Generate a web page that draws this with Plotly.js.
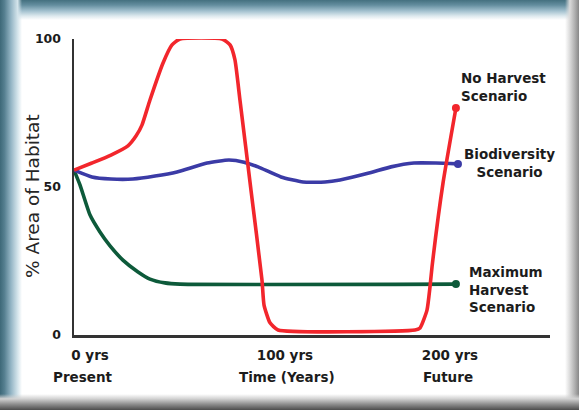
<!DOCTYPE html>
<html>
<head>
<meta charset="utf-8">
<script src="https://cdn.plot.ly/plotly-3.0.1.min.js"></script>
<style>
  html, body { margin: 0; padding: 0; background: #ffffff; }
  #wrap { position: relative; width: 579px; height: 410px; overflow: hidden; background: #ffffff; }
  .band { position: absolute; pointer-events: none; }
  #top { left: 0; top: 0; width: 579px; height: 20px;
    background: linear-gradient(to bottom, #44707f 0%, #638d9e 25%, #a3c1cf 55%, #dde9ee 80%, rgba(255,255,255,0) 100%); }
  #left { left: 0; top: 0; width: 22px; height: 410px;
    background: linear-gradient(to right, #3d6878 0%, #557f90 20%, #94b5c5 50%, #d4e4eb 80%, rgba(255,255,255,0) 100%); }
  #right { right: 0; top: 0; width: 14px; height: 410px;
    background: linear-gradient(to right, rgba(255,255,255,0) 0%, #dadada 35%, #b0b0b0 70%, #888888 100%); }
  #bottom { left: 0; bottom: 0; width: 579px; height: 16px;
    background: linear-gradient(to bottom, rgba(255,255,255,0) 0%, #d2d2d2 30%, #8c8c8c 65%, #4c4c4c 100%); }
  #plot { position: absolute; left: 0; top: 0; width: 579px; height: 410px; }
</style>
</head>
<body>
<div id="wrap">
  <div class="band" id="top"></div>
  <div class="band" id="left"></div>
  <div class="band" id="right"></div>
  <div class="band" id="bottom"></div>
  <div id="plot"></div>
</div>
<script>
// Time in years, % area of habitat
const noHarvestYears = [0, 9.6, 19.8, 28.9, 33.2, 36.4, 40.7, 47.7, 52.5, 56.8, 79.3, 83.6, 86.2, 88.9, 94.8, 100.7, 101.8, 105, 109.3, 182.7, 185.4, 189.1, 190.7, 191.8, 197.7, 204.6];
const noHarvestValues = [55.7, 58.1, 60.8, 63.9, 67.2, 70.9, 79.4, 91.9, 98, 100, 100, 98, 93, 79.4, 49, 18.6, 10.1, 4.1, 1.7, 1.7, 2.4, 8.4, 16.2, 23, 51.4, 76.7];

const biodiversityYears = [0, 9.6, 19.8, 31.6, 43.4, 55.2, 71.3, 83, 91.1, 98.6, 110.9, 122.7, 134.5, 142.5, 158, 169.8, 182.1, 193.9, 205.7];
const biodiversityValues = [55.7, 53.4, 52.7, 52.7, 53.7, 55.1, 58.1, 59.1, 58.4, 56.8, 53.4, 51.7, 51.7, 52.4, 54.7, 56.8, 58.1, 58.1, 57.8];

const maxHarvestYears = [0, 3.2, 8.6, 13.9, 19.3, 26.2, 34.3, 40.7, 48.7, 56.8, 204.6];
const maxHarvestValues = [55.7, 50.7, 40.5, 34.8, 30.1, 25.3, 21.3, 18.9, 17.6, 17.2, 17.2];

const xTickVals = [8.6, 113, 201.4];
const xTickText = ['0 yrs', '100 yrs', '200 yrs'];
const xSubLabelVals = [4.8, 114, 200.4];
const xSubLabels = ['Present', 'Time (Years)', 'Future'];
const yTickVals = [0, 50, 100];
const yTickText = ['0', '50', '100'];
const yTitle = '% Area of Habitat';

const seriesNames = ['No Harvest<br>Scenario', 'Biodiversity<br>Scenario', 'Maximum<br>Harvest<br>Scenario'];
const colors = ['#f2262c', '#3b3ba6', '#0d5a3a'];

function lineTrace(x, y, color) {
  return { x: x, y: y, mode: 'lines', type: 'scatter', cliponaxis: false,
    line: { color: color, width: 3.6, shape: 'spline', smoothing: 0.5 }, hoverinfo: 'skip', showlegend: false };
}
function endTrace(x, y, color) {
  return { x: x.slice(-1), y: y.slice(-1), mode: 'markers', type: 'scatter', cliponaxis: false,
    marker: { color: color, size: 8 }, hoverinfo: 'skip', showlegend: false };
}

const data = [
  lineTrace(maxHarvestYears, maxHarvestValues, colors[2]),
  lineTrace(biodiversityYears, biodiversityValues, colors[1]),
  lineTrace(noHarvestYears, noHarvestValues, colors[0]),
  endTrace(maxHarvestYears, maxHarvestValues, colors[2]),
  endTrace(biodiversityYears, biodiversityValues, colors[1]),
  endTrace(noHarvestYears, noHarvestValues, colors[0])
];

const labelFont = { family: 'DejaVu Sans', size: 13.5, color: '#1c1c1c', weight: 'bold' };

const annotations = [];
xSubLabels.forEach(function (t, i) {
  annotations.push({ text: '<b>' + t + '</b>', x: xSubLabelVals[i], xref: 'x', y: -0.142, yref: 'paper',
    showarrow: false, xanchor: 'center', yanchor: 'middle', font: labelFont });
});
annotations.push({ text: '<b>' + seriesNames[0] + '</b>', x: 0.809, xref: 'paper', y: 0.838, yref: 'paper',
  showarrow: false, xanchor: 'left', yanchor: 'middle', align: 'left', font: labelFont });
annotations.push({ text: '<b>' + seriesNames[1] + '</b>', x: 0.914, xref: 'paper', y: 0.581, yref: 'paper',
  showarrow: false, xanchor: 'center', yanchor: 'middle', align: 'center', font: labelFont });
annotations.push({ text: '<b>' + seriesNames[2] + '</b>', x: 0.826, xref: 'paper', y: 0.154, yref: 'paper',
  showarrow: false, xanchor: 'left', yanchor: 'middle', align: 'left', font: labelFont });
annotations.push({ text: yTitle, x: -0.086, xref: 'paper', y: 0.47, yref: 'paper', textangle: -90,
  showarrow: false, xanchor: 'center', yanchor: 'middle',
  font: { family: 'DejaVu Sans', size: 18.5, color: '#262626' } });

const layout = {
  width: 579, height: 410,
  margin: { l: 74, r: 29, t: 39, b: 75, pad: 0 },
  paper_bgcolor: 'rgba(0,0,0,0)', plot_bgcolor: 'rgba(0,0,0,0)',
  showlegend: false,
  xaxis: {
    range: [0, 255], showgrid: false, zeroline: false, showline: true, linecolor: '#333333', linewidth: 2.5,
    tickmode: 'array', tickvals: xTickVals, ticktext: xTickText, ticks: '', ticklabelstandoff: 6,
    tickfont: labelFont, fixedrange: true
  },
  yaxis: {
    range: [0, 100], showgrid: false, zeroline: false, showline: true, linecolor: '#333333', linewidth: 2.5,
    tickmode: 'array', tickvals: yTickVals, ticktext: yTickText, ticks: '', ticklabelstandoff: 8,
    tickfont: { family: 'DejaVu Sans', size: 12.5, color: '#1c1c1c', weight: 'bold' },
    fixedrange: true
  },
  annotations: annotations
};

Plotly.newPlot('plot', data, layout, { displayModeBar: false, staticPlot: true });
</script>
</body>
</html>
